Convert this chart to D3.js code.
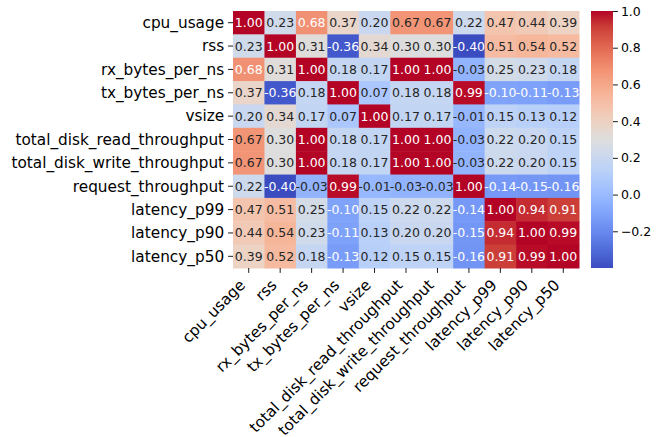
<!DOCTYPE html>
<html>
<head>
<meta charset="utf-8">
<script src="https://cdn.jsdelivr.net/npm/d3@7"></script>
<style>
  body { margin: 0; background: #fff; }
  text { font-family: "DejaVu Sans", sans-serif; fill: #000; }
</style>
</head>
<body>
<div id="chart"></div>
<script>
const labels = [
  "cpu_usage", "rss", "rx_bytes_per_ns", "tx_bytes_per_ns", "vsize",
  "total_disk_read_throughput", "total_disk_write_throughput",
  "request_throughput", "latency_p99", "latency_p90", "latency_p50"
];

const corrCpu = [1.00, 0.23, 0.68, 0.37, 0.20, 0.67, 0.67, 0.22, 0.47, 0.44, 0.39];
const corrRss = [0.23, 1.00, 0.31, -0.36, 0.34, 0.30, 0.30, -0.40, 0.51, 0.54, 0.52];
const corrRx = [0.68, 0.31, 1.00, 0.18, 0.17, 1.00, 1.00, -0.03, 0.25, 0.23, 0.18];
const corrTx = [0.37, -0.36, 0.18, 1.00, 0.07, 0.18, 0.18, 0.99, -0.10, -0.11, -0.13];
const corrVsize = [0.20, 0.34, 0.17, 0.07, 1.00, 0.17, 0.17, -0.01, 0.15, 0.13, 0.12];
const corrRead = [0.67, 0.30, 1.00, 0.18, 0.17, 1.00, 1.00, -0.03, 0.22, 0.20, 0.15];
const corrWrite = [0.67, 0.30, 1.00, 0.18, 0.17, 1.00, 1.00, -0.03, 0.22, 0.20, 0.15];
const corrRequest = [0.22, -0.40, -0.03, 0.99, -0.01, -0.03, -0.03, 1.00, -0.14, -0.15, -0.16];
const corrP99 = [0.47, 0.51, 0.25, -0.10, 0.15, 0.22, 0.22, -0.14, 1.00, 0.94, 0.91];
const corrP90 = [0.44, 0.54, 0.23, -0.11, 0.13, 0.20, 0.20, -0.15, 0.94, 1.00, 0.99];
const corrP50 = [0.39, 0.52, 0.18, -0.13, 0.12, 0.15, 0.15, -0.16, 0.91, 0.99, 1.00];

const matrix = [corrCpu, corrRss, corrRx, corrTx, corrVsize, corrRead, corrWrite,
  corrRequest, corrP99, corrP90, corrP50];

const colorbarTicks = [-0.2, 0.0, 0.2, 0.4, 0.6, 0.8, 1.0];

// coolwarm (Moreland) anchor colours, evenly spaced 0..1
const coolwarm = [
  "rgb(59,76,192)", "rgb(77,104,215)", "rgb(98,130,234)", "rgb(119,154,247)",
  "rgb(141,176,254)", "rgb(163,194,255)", "rgb(184,208,249)", "rgb(204,217,238)",
  "rgb(221,221,221)", "rgb(236,211,197)", "rgb(245,196,173)", "rgb(247,177,148)",
  "rgb(244,154,123)", "rgb(236,127,99)", "rgb(222,96,77)", "rgb(203,62,56)",
  "rgb(180,4,38)"
];

const W = 661, H = 437;
const mLeft = 233, mTop = 11, mRight = 579, mBottom = 268;

const svg = d3.select("#chart").append("svg")
  .attr("width", W).attr("height", H);

const flat = matrix.flat();
const vmin = d3.min(flat), vmax = d3.max(flat);

const cmap = d3.scaleLinear()
  .domain(d3.range(coolwarm.length).map(i => vmin + (vmax - vmin) * i / (coolwarm.length - 1)))
  .range(coolwarm)
  .interpolate(d3.interpolateRgb)
  .clamp(true);

const x = d3.scaleBand().domain(labels).range([mLeft, mRight]);
const y = d3.scaleBand().domain(labels).range([mTop, mBottom]);

// seaborn-style text colour choice
function luminance(c) {
  const rgb = d3.rgb(c);
  const lin = v => {
    v = v / 255;
    return v <= 0.03928 ? v / 12.92 : Math.pow((v + 0.055) / 1.055, 2.4);
  };
  return 0.2126 * lin(rgb.r) + 0.7152 * lin(rgb.g) + 0.0722 * lin(rgb.b);
}

const cells = [];
matrix.forEach((row, i) => row.forEach((v, j) => cells.push({ r: labels[i], c: labels[j], v })));

svg.append("g")
  .selectAll("rect")
  .data(cells)
  .enter()
  .append("rect")
  .attr("x", d => x(d.c))
  .attr("y", d => y(d.r))
  .attr("width", x.bandwidth() + 0.5)
  .attr("height", y.bandwidth() + 0.5)
  .attr("fill", d => cmap(d.v));

svg.append("g")
  .selectAll("text")
  .data(cells)
  .enter()
  .append("text")
  .attr("x", d => x(d.c) + x.bandwidth() / 2)
  .attr("y", d => y(d.r) + y.bandwidth() / 2)
  .attr("text-anchor", "middle")
  .attr("dy", "0.36em")
  .style("font-size", "12.5px")
  .style("fill", d => luminance(cmap(d.v)) > 0.408 ? "#262626" : "#fff")
  .text(d => d.v.toFixed(2));

// Y axis
const yAxis = svg.append("g")
  .attr("transform", `translate(${mLeft},0)`)
  .call(d3.axisLeft(y).tickSize(4.9).tickPadding(4));
yAxis.select(".domain").remove();
yAxis.selectAll(".tick line").attr("stroke", "#000").attr("stroke-width", 0.9);
yAxis.selectAll(".tick text")
  .style("font-size", "15.3px")
  .attr("fill", "#000")
  .attr("dy", "0.35em");

// X axis
const xAxis = svg.append("g")
  .attr("transform", `translate(0,${mBottom})`)
  .call(d3.axisBottom(x).tickSize(4.9));
xAxis.select(".domain").remove();
xAxis.selectAll(".tick line").attr("stroke", "#000").attr("stroke-width", 0.9);
xAxis.selectAll(".tick text")
  .style("font-size", "15.3px")
  .attr("fill", "#000")
  .attr("text-anchor", "end")
  .attr("x", -2.6)
  .attr("y", 18)
  .attr("dy", 0)
  .attr("transform", "rotate(-45,-2.6,18)");

// Colorbar
const cbLeft = 591, cbWidth = 22;
const cbY = d3.scaleLinear().domain([vmin, vmax]).range([mBottom, mTop]);

const defs = svg.append("defs");
const grad = defs.append("linearGradient")
  .attr("id", "cbgrad")
  .attr("x1", 0).attr("y1", 1).attr("x2", 0).attr("y2", 0);
grad.selectAll("stop")
  .data(d3.range(0, 1.0001, 0.02))
  .enter()
  .append("stop")
  .attr("offset", d => d)
  .attr("stop-color", d => cmap(vmin + d * (vmax - vmin)));

svg.append("rect")
  .attr("x", cbLeft)
  .attr("y", mTop)
  .attr("width", cbWidth)
  .attr("height", mBottom - mTop)
  .attr("fill", "url(#cbgrad)");

const cbAxis = svg.append("g")
  .attr("transform", `translate(${cbLeft + cbWidth},0)`)
  .call(d3.axisRight(cbY).tickValues(colorbarTicks).tickSize(4.9).tickPadding(3)
    .tickFormat(d => d3.format(".1f")(d).replace("-", "\u2212")));
cbAxis.select(".domain").remove();
cbAxis.selectAll(".tick line").attr("stroke", "#000").attr("stroke-width", 0.9);
cbAxis.selectAll(".tick text")
  .style("font-size", "12.5px")
  .attr("fill", "#000");
</script>
</body>
</html>
